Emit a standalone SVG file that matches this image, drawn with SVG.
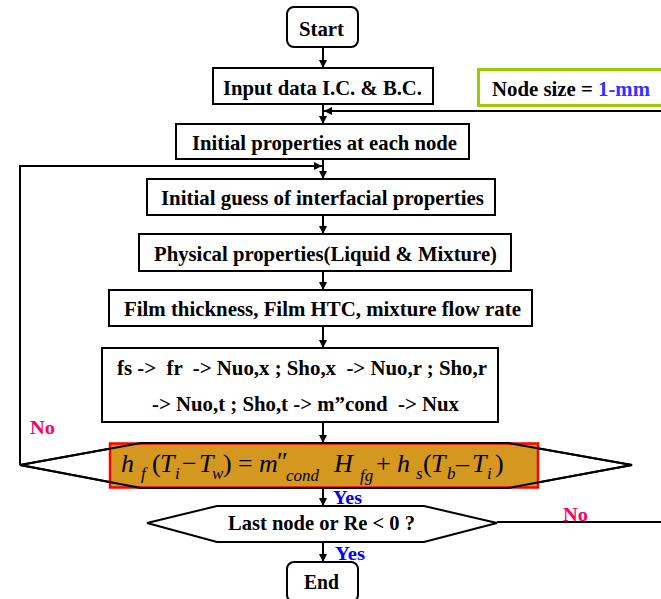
<svg xmlns="http://www.w3.org/2000/svg" width="661" height="599" viewBox="0 0 661 599">
<defs>
<marker id="ah" viewBox="0 0 10 10" refX="10" refY="5" markerWidth="8" markerHeight="8" markerUnits="userSpaceOnUse" orient="auto">
<path d="M0,0 L10,5 L0,10 z" fill="#000"/>
</marker>
</defs>
<style>
.box{fill:#fff;stroke:#000;stroke-width:2}
.t{font-family:"Liberation Serif","Times New Roman",serif;font-weight:bold;font-size:21px;fill:#000;text-anchor:start}
.lbl{font-family:"Liberation Serif","Times New Roman",serif;font-weight:bold;font-size:19px}
.no{fill:#FF0066}
.yes{fill:#0000FF}
.c{fill:none;stroke:#000;stroke-width:2}
.m{font-family:"Liberation Serif","Times New Roman",serif;font-size:26px;fill:#000}
.mi{font-style:italic}
.sub{font-family:"Liberation Serif","Times New Roman",serif;font-style:italic;font-size:17px;fill:#000}
</style>
<rect width="661" height="599" fill="#fff"/>
<g id="connectors">
<line class="c" x1="323" y1="47" x2="323" y2="68" marker-end="url(#ah)"/>
<line class="c" x1="323" y1="104" x2="323" y2="124" marker-end="url(#ah)"/>
<line class="c" x1="323" y1="159" x2="323" y2="179" marker-end="url(#ah)"/>
<line class="c" x1="323" y1="215" x2="323" y2="234" marker-end="url(#ah)"/>
<line class="c" x1="323" y1="271" x2="323" y2="290" marker-end="url(#ah)"/>
<line class="c" x1="323" y1="326" x2="323" y2="348" marker-end="url(#ah)"/>
<line class="c" x1="323" y1="422" x2="323" y2="443" marker-end="url(#ah)"/>
<line class="c" x1="323" y1="488" x2="323" y2="506" marker-end="url(#ah)"/>
<line class="c" x1="323" y1="542" x2="323" y2="562" marker-end="url(#ah)"/>
<path class="c" d="M497,522 H668 V111 H324" marker-end="url(#ah)"/>
<path class="c" d="M20,465 V166 H322" marker-end="url(#ah)"/>
</g>
<g id="start">
<rect class="box" x="287" y="7" width="71" height="40" rx="7"/>
<text class="t" x="299" y="36" textLength="45" lengthAdjust="spacingAndGlyphs">Start</text>
</g>
<g id="input">
<rect class="box" x="213" y="68" width="220" height="36"/>
<text class="t" x="223" y="95" textLength="199" lengthAdjust="spacingAndGlyphs">Input data I.C. &amp; B.C.</text>
</g>
<g id="nodesize">
<rect x="478.5" y="69.5" width="200" height="36" fill="#fff" stroke="#99CC00" stroke-width="3"/>
<text class="t" x="492" y="96" textLength="158" lengthAdjust="spacingAndGlyphs">Node size = <tspan fill="#3333FF">1-mm</tspan></text>
</g>
<g id="initprops">
<rect class="box" x="176" y="124" width="293" height="35"/>
<text class="t" x="192" y="150" textLength="265" lengthAdjust="spacingAndGlyphs">Initial properties at each node</text>
</g>
<g id="guess">
<rect class="box" x="147" y="179" width="348" height="36"/>
<text class="t" x="161" y="205" textLength="323" lengthAdjust="spacingAndGlyphs">Initial guess of interfacial properties</text>
</g>
<g id="physical">
<rect class="box" x="139" y="234" width="372" height="37"/>
<text class="t" x="154" y="261" textLength="343" lengthAdjust="spacingAndGlyphs">Physical properties(Liquid &amp; Mixture)</text>
</g>
<g id="film">
<rect class="box" x="109" y="290" width="423" height="36"/>
<text class="t" x="124" y="316" textLength="397" lengthAdjust="spacingAndGlyphs">Film thickness, Film HTC, mixture flow rate</text>
</g>
<g id="calc">
<rect class="box" x="102" y="348" width="396" height="74"/>
<text class="t" x="117" y="375" textLength="370" lengthAdjust="spacingAndGlyphs" xml:space="preserve">fs -&gt;  fr  -&gt; Nuo,x ; Sho,x  -&gt; Nuo,r ; Sho,r</text>
<text class="t" x="152" y="411" textLength="307" lengthAdjust="spacingAndGlyphs" xml:space="preserve">-&gt; Nuo,t ; Sho,t -&gt; m”cond  -&gt; Nux</text>
</g>
<g id="converge">
<polygon points="20,465 141,443 508,443 632,465 508,488 141,488" fill="#fff" stroke="#000" stroke-width="2"/>
<rect x="110" y="443.5" width="428" height="44" fill="#D4971F" stroke="#FF0000" stroke-width="2.5"/>
<polyline points="20,465 141,443 508,443 632,465 508,488 141,488 20,465" fill="none" stroke="#000" stroke-width="2"/>
<text class="m mi" x="121" y="472">h</text>
<text class="sub" x="141" y="479">f</text>
<text class="m" x="152" y="472">(</text>
<text class="m mi" x="160" y="472">T</text>
<text class="sub" x="175" y="479">i</text>
<text class="m" x="182" y="472">−</text>
<text class="m mi" x="199" y="472">T</text>
<text class="sub" x="212" y="479">w</text>
<text class="m" x="223" y="472">)</text>
<text class="m" x="238" y="472">=</text>
<text class="m mi" x="259" y="472">m</text>
<text class="m" x="277" y="470">″</text>
<text class="sub" x="286" y="481">cond</text>
<text class="m mi" x="334" y="472">H</text>
<text class="sub" x="360" y="481">fg</text>
<text class="m" x="376" y="472">+</text>
<text class="m mi" x="397" y="472">h</text>
<text class="sub" x="416" y="479">s</text>
<text class="m" x="423" y="472">(</text>
<text class="m mi" x="431" y="472">T</text>
<text class="sub" x="447" y="479">b</text>
<text class="m" x="456" y="472">–</text>
<text class="m mi" x="472" y="472">T</text>
<text class="sub" x="487" y="479">i</text>
<text class="m" x="495" y="472">)</text>
</g>
<g id="lastnode">
<polygon points="147,523 217,506 424,506 497,523 424,542 217,542" fill="#fff" stroke="#000" stroke-width="2"/>
<text class="t" x="228" y="530" textLength="187" lengthAdjust="spacingAndGlyphs">Last node or Re &lt; 0 ?</text>
</g>
<g id="end">
<rect class="box" x="287" y="562" width="71" height="40" rx="7"/>
<text class="t" x="304" y="589" textLength="35" lengthAdjust="spacingAndGlyphs">End</text>
</g>
<g id="labels">
<text class="lbl no" x="30" y="434" textLength="25" lengthAdjust="spacingAndGlyphs">No</text>
<text class="lbl yes" x="333" y="504" textLength="29" lengthAdjust="spacingAndGlyphs">Yes</text>
<text class="lbl no" x="563" y="521" textLength="25" lengthAdjust="spacingAndGlyphs">No</text>
<text class="lbl yes" x="335" y="560" textLength="30" lengthAdjust="spacingAndGlyphs">Yes</text>
</g>
</svg>
